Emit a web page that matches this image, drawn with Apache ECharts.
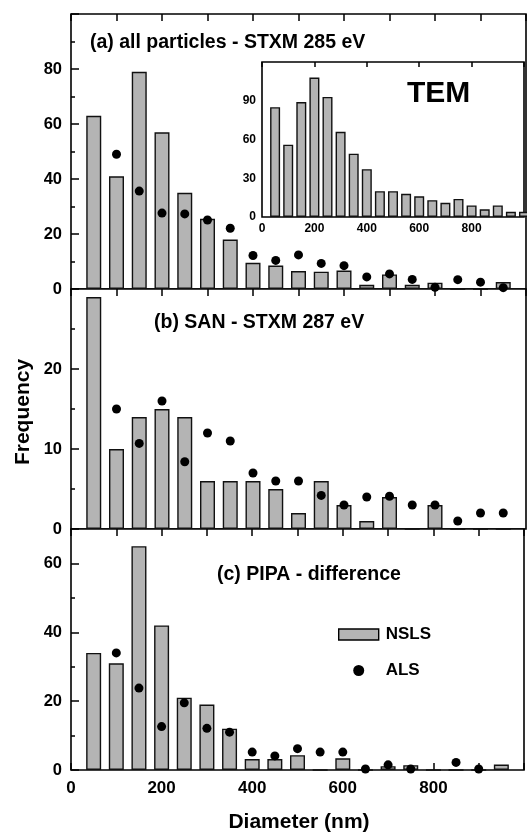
<!DOCTYPE html>
<html><head><meta charset="utf-8">
<script src="https://cdn.jsdelivr.net/npm/echarts@6/dist/echarts.min.js"></script>
<style>html,body{margin:0;padding:0;background:#fff}#c{width:527px;height:833px}</style>
</head><body><div id="c"></div>
<script>
// ---- data ----
const diameters = [50,100,150,200,250,300,350,400,450,500,550,600,650,700,750,800,850,900,950];
const temDiameters = [50,100,150,200,250,300,350,400,450,500,550,600,650,700,750,800,850,900,950,1000];
const nslsA = [63,41,79,57,35,25.5,18,9.5,8.5,6.5,6.3,6.7,1.5,5.3,1.5,2.3,0,0,2.5];
const alsA  = [null,49,35.6,27.6,27.3,25.1,22.1,12.2,10.4,12.4,9.3,8.5,4.4,5.5,3.5,0.6,3.4,2.5,0.5];
const nslsB = [29,10,14,15,14,6,6,6,5,2,6,3,1,4,0,3,0,0,0];
const alsB  = [null,15,10.7,16,8.4,12,11,7,6,6,4.2,3,4,4.1,3,3,1,2,2];
const nslsC = [34,31,65,42,21,19,12,3.2,3.2,4.3,0,3.4,0,1.1,1.4,0,0,0,1.6];
const alsC  = [null,34,23.8,12.6,19.5,12.1,11,5.2,4.1,6.2,5.2,5.2,0.3,1.5,0.3,null,2.2,0.3,null];
const temCounts = [85,56,89,108,93,66,49,37,20,20,18,16,13,11,14,9,6,9,4,4];
const xTickLabels = [0,200,400,600,800];

// ---- build ----
const FONT = 'Liberation Sans, Arial, sans-serif';
const pair = (xs, ys) => xs.map((x,i) => ys[i] == null ? null : [x, ys[i]]).filter(d => d);
const barStyle = {color:'#b4b4b4', borderColor:'#111', borderWidth:1.4};

const main = {left:71, width:455};
const grids = [
  {left:main.left, width:main.width, top:14, height:275},
  {left:main.left, width:main.width, top:289, height:240},
  {left:main.left, width:main.width, top:529, height:241},
  {left:262, width:263, top:62, height:155}
].map(g => Object.assign(g, {show:true, borderColor:'#000', borderWidth:1.6, backgroundColor:'#fff'}));

function xAx(gi, pos, opts) {
  return Object.assign({
    type:'value', gridIndex:gi, position:pos, min:0, max:1000, interval:100,
    axisLine:{show:false}, splitLine:{show:false},
    axisTick:{show:true, inside:true, length:7, lineStyle:{color:'#000', width:1.5}},
    axisLabel:{show:false}
  }, opts || {});
}
const xFmt = v => xTickLabels.indexOf(v) >= 0 ? String(v) : '';
const xAxes = [
  xAx(0,'bottom',{axisTick:{show:false}}),
  xAx(0,'top'),
  xAx(1,'bottom',{axisTick:{show:false}}),
  xAx(1,'top'),
  xAx(2,'bottom',{axisLabel:{show:true, formatter:xFmt, color:'#000', fontFamily:FONT, fontWeight:'bold', fontSize:17, margin:10}}),
  xAx(2,'top'),
  xAx(3,'bottom',{axisTick:{show:false}, axisLabel:{show:true, formatter:xFmt, color:'#000', fontFamily:FONT, fontWeight:'bold', fontSize:12, margin:6}}),
  xAx(3,'top',{interval:200, axisTick:{show:true, inside:true, length:5, lineStyle:{color:'#000', width:1.5}}})
];

function yAx(gi, max, interval, labels, fs, margin) {
  return {
    type:'value', gridIndex:gi, min:0, max:max, interval:interval,
    axisLine:{show:false}, splitLine:{show:false},
    axisTick:{show:gi<3, inside:true, length:8, lineStyle:{color:'#000', width:1.5}},
    minorTick:{show:gi<3, splitNumber:2, length:4, lineStyle:{color:'#000', width:1.5}},
    axisLabel:{color:'#000', fontFamily:FONT, fontWeight:'bold', fontSize:fs, margin:margin,
      formatter: v => labels.indexOf(v) >= 0 ? String(v) : ''}
  };
}
const yAxes = [
  yAx(0,100,20,[0,20,40,60,80],16.5,9),
  yAx(1,30,10,[0,10,20],16.5,9),
  yAx(2,70,20,[0,20,40,60],16.5,9),
  yAx(3,120,30,[0,30,60,90],12,6)
];

const series = [];
[[nslsA,alsA],[nslsB,alsB],[nslsC,alsC]].forEach((s,i) => {
  series.push({type:'bar', name:'NSLS', xAxisIndex:i*2, yAxisIndex:i, barWidth:15,
    data:pair(diameters, s[0]), itemStyle:barStyle, z:2});
  series.push({type:'scatter', name:'ALS', xAxisIndex:i*2, yAxisIndex:i, symbolSize:9,
    data:pair(diameters, s[1]), itemStyle:{color:'#000', opacity:1}, z:3});
});
series.push({type:'bar', name:'TEM', xAxisIndex:6, yAxisIndex:3, barWidth:10,
  data:pair(temDiameters, temCounts), itemStyle:barStyle, z:5});

const txt = (text, x, y, size, extra) => Object.assign({
  type:'text', x:x, y:y, z:10,
  style:{text:text, fill:'#000', font:'bold '+size+'px '+FONT, textAlign:'left', textVerticalAlign:'middle'}
}, extra || {});

const option = {
  animation:false,
  backgroundColor:'#fff',
  grid:grids, xAxis:xAxes, yAxis:yAxes, series:series,
  legend:{
    data:[{name:'NSLS', icon:'rect', itemStyle:{color:'#b4b4b4', borderColor:'#000', borderWidth:1.4}},
          {name:'ALS', icon:'circle', itemStyle:{color:'#000', opacity:1, borderWidth:0}}],
    orient:'vertical', left:333, top:621, itemWidth:40, itemHeight:11, itemGap:19,
    textStyle:{color:'#000', fontFamily:FONT, fontWeight:'bold', fontSize:17, padding:[0,0,0,2]}
  },
  graphic:[
    txt('(a) all particles - STXM 285 eV', 90, 43, 19.5),
    txt('(b) SAN - STXM 287 eV', 154, 323, 19.5),
    txt('(c) PIPA - difference', 217, 575, 19.5),
    txt('TEM', 407, 94, 30),
    txt('Diameter (nm)', 299, 822, 21, {style:{text:'Diameter (nm)', fill:'#000', font:'bold 21px '+FONT, textAlign:'center', textVerticalAlign:'middle'}}),
    {type:'text', x:23, y:412, rotation:Math.PI/2, z:10,
     style:{text:'Frequency', fill:'#000', font:'bold 21px '+FONT, textAlign:'center', textVerticalAlign:'middle'}}
  ]
};
const chart = echarts.init(document.getElementById('c'), null, {renderer:'canvas'});
chart.setOption(option);
</script></body></html>
